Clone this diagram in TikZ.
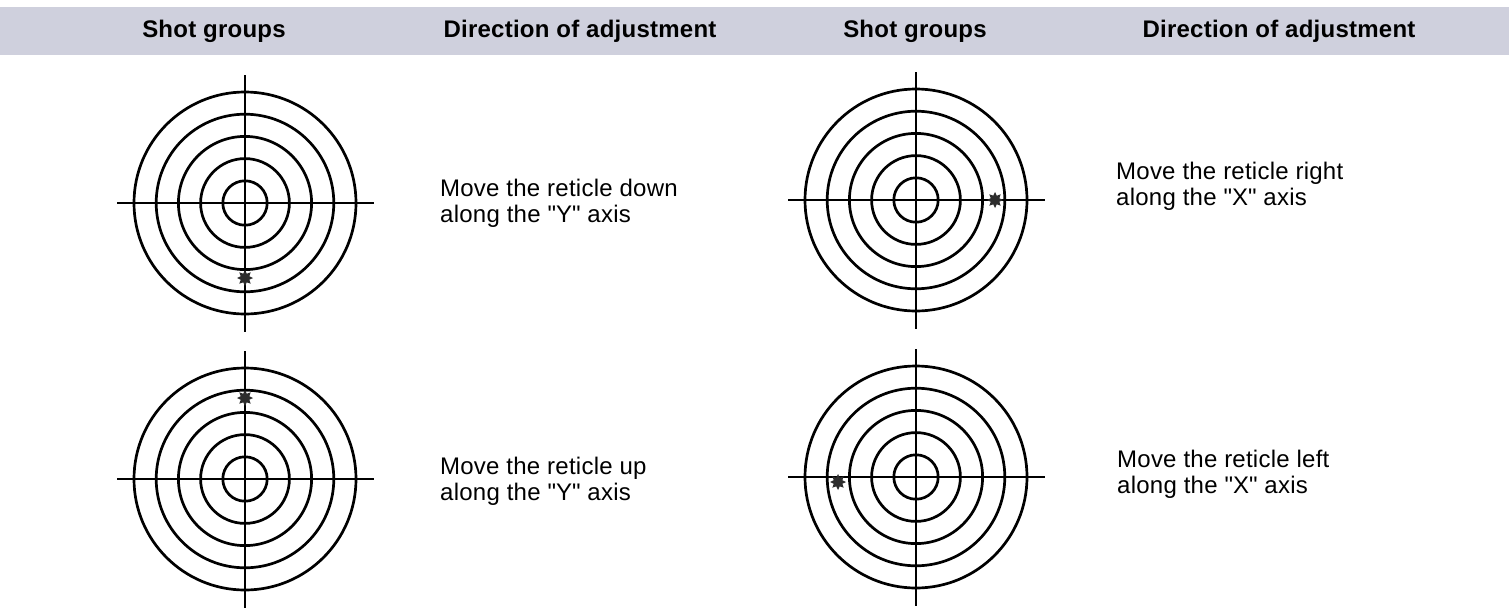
\documentclass[tikz,border=0pt]{standalone}
\usepackage{fontspec}
\setmainfont{Liberation Sans}[LetterSpace=1]
\usetikzlibrary{shapes.geometric}
\definecolor{bandgray}{RGB}{207,208,221}
\definecolor{hitgray}{RGB}{45,45,45}
\tikzset{
  head/.style={font=\bfseries\fontsize{24}{26}\selectfont, anchor=base, inner sep=0pt},
  advice/.style={font=\fontsize{24}{26}\selectfont, align=left, anchor=base west, inner sep=0pt},
  ring/.style={line width=2.7pt},
  hit/.style={star, star points=8, star point ratio=1.7, fill=hitgray, draw=none, minimum size=16pt, inner sep=0pt}
}
\begin{document}
\begin{tikzpicture}[x=1pt,y=-1pt]
  \useasboundingbox (0,0) rectangle (1509,608);
  % header band
  \fill[bandgray] (0,7) rectangle (1509,55);
  \node[head] (shotA) at (214,37) {Shot groups};
  \node[head] (dirA) at (580,37) {Direction of adjustment};
  \node[head] (shotB) at (915,37) {Shot groups};
  \node[head] (dirB) at (1279,37) {Direction of adjustment};
  % targets
  \foreach \tg/\cx/\cy/\hx/\hy in {down/245/203/0/75, right/916/200/79/0, up/245/479/0/-81, left/916/477/-78/5} {
    \foreach \r in {1,...,5}
      \draw[ring] (\cx,\cy) circle[radius={22.2pt*\r}];
    \draw[ring] (\cx-128,\cy) -- (\cx+129,\cy);
    \draw[ring] (\cx,\cy-128) -- (\cx,\cy+129);
    \node[hit] (hit-\tg) at (\cx+\hx,\cy+\hy) {};
  }
  % directions
  \node[advice] (txt-down) at (440,222) {Move the reticle down\\along the \textquotedbl Y\textquotedbl{} axis};
  \node[advice] (txt-right) at (1116,205) {Move the reticle right\\along the \textquotedbl X\textquotedbl{} axis};
  \node[advice] (txt-up) at (440,500) {Move the reticle up\\along the \textquotedbl Y\textquotedbl{} axis};
  \node[advice] (txt-left) at (1117,493) {Move the reticle left\\along the \textquotedbl X\textquotedbl{} axis};
\end{tikzpicture}
\end{document}
